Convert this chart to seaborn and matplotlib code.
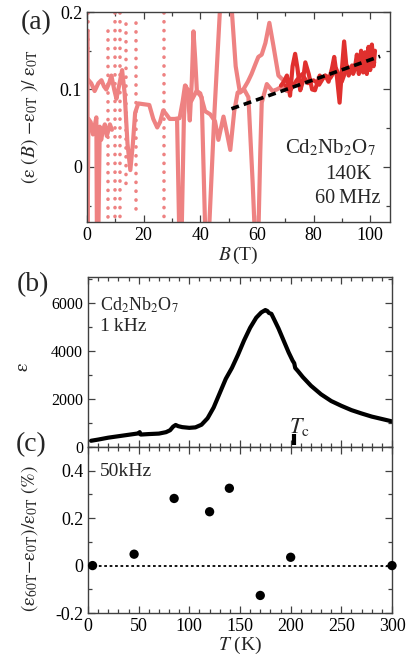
import numpy as np
import pandas as pd
import matplotlib
matplotlib.use("Agg")
import matplotlib.pyplot as plt
from matplotlib.ticker import MultipleLocator, FuncFormatter
import seaborn as sns

# ---------------- (a) magnetic-field sweeps, 140 K, 60 MHz ----------------
# lower-field branch (pink)
b_up = [0.3, 1.5, 2.7, 4.0, 5.1, 6.0, 6.8, 7.8, 8.6, 9.6, 10.4, 11.5, 12.4,
        13.3, 14.3, 15.3, 16.2, 17.0, 18.1, 20.0, 22.0, 23.4, 24.8, 25.8,
        26.9, 28.0, 29.2, 31.0, 32.7, 33.8, 34.6, 35.5, 36.3, 37.0, 37.6,
        38.2, 38.8, 40.0, 41.7, 43.5, 45.2, 46.4, 47.3, 48.2, 49.4, 50.6,
        52.0, 53.2, 55.2, 56.8, 58.1, 59.5, 60.5, 61.7, 63.0, 64.4, 65.8,
        67.6, 69.3, 70.5]
r_up = [0.113, 0.108, 0.098, 0.108, 0.112, 0.104, 0.100, 0.108, 0.118,
        0.100, 0.088, 0.108, 0.125, 0.095, 0.030, -0.004, 0.030, 0.070,
        0.082, 0.081, 0.080, 0.062, 0.051, 0.058, 0.073, 0.068, 0.062,
        0.062, 0.063, 0.085, 0.105, 0.100, 0.060, 0.110, 0.175, 0.140,
        0.098, 0.095, 0.072, 0.068, 0.059, 0.035, 0.050, 0.065, 0.044,
        0.022, 0.072, 0.096, 0.100, 0.110, 0.120, 0.133, 0.142, 0.145,
        0.160, 0.186, 0.157, 0.118, 0.112, 0.105]

# second pink branch near zero field
b_lo = [0.2, 0.2, 0.5, 1.3, 2.1, 3.3, 3.5, 4.0, 4.5, 5.0, 5.5, 6.3, 7.0,
        8.1, 8.8]
r_lo = [0.175, -0.09, 0.062, 0.058, 0.042, 0.064, -0.09, -0.09, 0.052,
        0.035, 0.045, 0.055, 0.040, 0.055, 0.048]

# pink branch with large excursions above 30 T
b_hi = [31.8, 32.6, 33.4, 34.2, 34.8, 35.8, 36.8, 37.8, 38.7, 40.5, 41.8,
        43.0, 45.0, 47.2, 50.8, 52.5, 54.0, 55.5, 57.0, 58.5, 59.3, 60.5,
        61.2, 61.7, 63.5, 65.5, 67.0, 69.0, 70.5]
r_hi = [0.062, -0.09, -0.09, 0.060, 0.105, 0.095, 0.085, 0.092, 0.098,
        0.090, -0.09, -0.09, 0.070, 0.22, 0.22, 0.130, 0.096, 0.100, 0.090,
        -0.020, -0.09, -0.09, 0.020, 0.083, 0.107, 0.098, 0.100, 0.104,
        0.098]

# dotted fast-sweep segments
dot_b = [0.4, 7.3, 9.8, 11.6, 13.8, 17.3, 27.2]
dot_top = [0.21, 0.175, 0.21, 0.21, 0.185, 0.186, 0.21]
dot_bot = [0.150, -0.08, -0.08, -0.08, -0.03, -0.055, -0.08]

# high-field branch (red)
b_red = [68.5, 69.5, 70.6, 71.7, 72.6, 73.5, 74.3, 75.3, 76.2, 77.1, 78.3,
         79.5, 80.5, 81.2, 82.2, 83.0, 84.2, 85.3, 86.5, 87.3, 88.3, 89.2,
         90.0, 90.8, 91.6, 92.4, 93.6, 94.5, 95.3, 96.0, 96.8, 97.5, 98.2,
         98.8, 99.4, 100.0, 100.6, 101.2, 101.7]
r_red = [0.105, 0.110, 0.118, 0.092, 0.130, 0.146, 0.128, 0.099, 0.110,
         0.135, 0.120, 0.100, 0.099, 0.107, 0.118, 0.114, 0.118, 0.110,
         0.127, 0.142, 0.115, 0.083, 0.125, 0.162, 0.130, 0.118, 0.131,
         0.125, 0.145, 0.120, 0.150, 0.122, 0.148, 0.120, 0.155, 0.125,
         0.158, 0.130, 0.150]
b_red2 = [70.0, 72.0, 74.0, 76.0, 78.0, 80.0, 82.0, 84.0, 86.0, 88.0, 90.0,
          92.0, 94.0, 96.0, 98.0, 100.0, 101.5]
r_red2 = [0.105, 0.100, 0.112, 0.120, 0.108, 0.112, 0.106, 0.118, 0.115,
          0.127, 0.110, 0.130, 0.120, 0.138, 0.130, 0.140, 0.135]

# linear trend at high field
fit_slope = 0.00129
fit_icpt = 0.0093
fit_range = [51.0, 103.5]

# ---------------- (b) permittivity vs temperature, 1 kHz ----------------
temp_b = [3, 10, 20, 30, 40, 50, 51, 52, 60, 70, 77, 81, 84, 86.5, 89, 93,
          100, 106, 112, 118, 124, 130, 136, 142, 148, 154, 160, 166, 171,
          175, 177, 178.5, 181, 184, 188, 193, 198, 202, 203.5, 204.5, 207,
          212, 220, 225, 230, 240, 250, 260, 270, 280, 290, 300]
eps_b = [260, 310, 390, 450, 510, 570, 620, 520, 540, 560, 620, 700, 850,
         920, 870, 830, 800, 820, 930, 1200, 1650, 2250, 2850, 3300, 3850,
         4450, 4980, 5400, 5620, 5720, 5680, 5600, 5560, 5300, 4950, 4450,
         3950, 3600, 3500, 3300, 3180, 2920, 2560, 2380, 2200, 1920, 1720,
         1540, 1400, 1270, 1170, 1070]
t_c = 203.5

# ---------------- (c) relative change at 60 T, 50 kHz ----------------
temp_c = [4.5, 45.5, 85, 120, 139.5, 170, 200, 300]
delta_c = [0.0, 0.048, 0.283, 0.227, 0.326, -0.126, 0.035, 0.0]

# ---------------------------- styling ----------------------------
sns.set_theme(style="ticks")
plt.rcParams["font.family"] = ["Liberation Serif", "DejaVu Serif"]
plt.rcParams["font.serif"] = ["Liberation Serif", "DejaVu Serif"]
plt.rcParams["mathtext.fontset"] = "stix"
plt.rcParams["axes.formatter.use_mathtext"] = False
plt.rcParams["axes.edgecolor"] = "#404040"
plt.rcParams["axes.linewidth"] = 1.0

PINK = "#ee8282"
RED = "#e0302e"
FS_TICK = 13
FS_LAB = 14
SERIF = ["Liberation Serif", "DejaVu Serif"]

fig = plt.figure(figsize=(4.12, 6.59), dpi=100)
W, H = 412.0, 659.0


def px_axes(l, t, r, b):
    return fig.add_axes([l / W, 1 - b / H, (r - l) / W, (b - t) / H])


def num_fmt(decimals):
    def f(v, p):
        if abs(v) < 1e-9:
            return "0"
        return f"{v:.{decimals}f}"
    return FuncFormatter(f)


def style_ticks(ax, size=FS_TICK):
    ax.tick_params(which="both", direction="in", top=True, right=True,
                   colors="#404040", labelcolor="black", labelsize=size,
                   width=0.9)
    ax.tick_params(which="major", length=5)
    ax.tick_params(which="minor", length=3)
    for lab in ax.get_xticklabels() + ax.get_yticklabels():
        lab.set_family(SERIF)


ax_a = px_axes(87, 12, 390, 222)
ax_b = px_axes(88, 277, 392, 447)
ax_c = px_axes(88, 447, 392, 613)

# ---- panel (a)
dots = pd.DataFrame({
    "B": np.repeat(dot_b, 2),
    "r": np.ravel(np.column_stack([dot_top, dot_bot])),
    "seg": np.repeat(np.arange(len(dot_b)), 2),
})
sns.lineplot(data=dots, x="B", y="r", units="seg", estimator=None,
             sort=False, color=PINK, lw=2.6, ax=ax_a,
             linestyle=(0, (0.05, 2.4)), dash_capstyle="round")

for bb, rr, col, lw in [(b_lo, r_lo, PINK, 3.0), (b_hi, r_hi, PINK, 3.0),
                        (b_up, r_up, PINK, 3.0), (b_red2, r_red2, RED, 2.8),
                        (b_red, r_red, RED, 3.0)]:
    sns.lineplot(x=bb, y=rr, sort=False, estimator=None, color=col, lw=lw,
                 ax=ax_a, solid_joinstyle="round", solid_capstyle="round")

fit_x = np.array(fit_range)
sns.lineplot(x=fit_x, y=fit_icpt + fit_slope * fit_x, color="black", lw=2.6,
             linestyle=(0, (2.2, 1.4)), ax=ax_a)

ax_a.set_xlim(0, 107)
ax_a.set_ylim(-0.071, 0.2)
ax_a.xaxis.set_major_locator(MultipleLocator(20))
ax_a.xaxis.set_minor_locator(MultipleLocator(10))
ax_a.xaxis.set_major_formatter(num_fmt(0))
ax_a.yaxis.set_major_locator(MultipleLocator(0.1))
ax_a.yaxis.set_minor_locator(MultipleLocator(0.05))
ax_a.yaxis.set_major_formatter(num_fmt(1))
style_ticks(ax_a)
ax_a.set_xlabel(r"$B\,$(T)", fontsize=FS_LAB, labelpad=1)
ax_a.set_ylabel(r"$(\mathrm{ε}\ (B)\ \mathrm{-ε}_{\rm 0T}\ )/\ \mathrm{ε}_{\rm 0T}$",
                fontsize=FS_LAB)
ax_a.yaxis.set_label_coords(-0.155, 0.5)
ax_a.text(0.955, 0.355, r"Cd$_2$Nb$_2$O$_7$", transform=ax_a.transAxes,
          ha="right", va="center", fontsize=15)
ax_a.text(0.94, 0.225, "140K", transform=ax_a.transAxes,
          ha="right", va="center", fontsize=15)
ax_a.text(0.97, 0.112, "60\u2009MHz", transform=ax_a.transAxes,
          ha="right", va="center", fontsize=14.5)

# ---- panel (b)
sns.lineplot(x=temp_b, y=eps_b, sort=False, estimator=None, color="black",
             lw=3.0, ax=ax_b, solid_joinstyle="round")
ax_b.vlines(t_c, 80, 530, color="black", lw=3)
ax_b.text(t_c - 5, 600, r"$T_{\rm c}$", fontsize=16, ha="left",
          va="baseline")
ax_b.set_xlim(0, 300)
ax_b.set_ylim(0, 7100)
ax_b.xaxis.set_major_locator(MultipleLocator(50))
ax_b.xaxis.set_minor_locator(MultipleLocator(10))
ax_b.yaxis.set_major_locator(MultipleLocator(2000))
ax_b.yaxis.set_minor_locator(MultipleLocator(1000))
ax_b.yaxis.set_major_formatter(num_fmt(0))
style_ticks(ax_b, size=11.5)
ax_b.tick_params(labelbottom=False)
ax_b.set_xlabel("")
ax_b.set_ylabel(r"$\mathrm{ε}$", fontsize=FS_LAB)
ax_b.yaxis.set_label_coords(-0.184, 0.47)
ax_b.text(0.04, 0.835, r"Cd$_2$Nb$_2$O$_7$", transform=ax_b.transAxes,
          ha="left", va="center", fontsize=13)
ax_b.text(0.04, 0.71, "1\u2009kHz", transform=ax_b.transAxes,
          ha="left", va="center", fontsize=FS_LAB)

# ---- panel (c)
ax_c.axhline(0, color="black", lw=1.3, linestyle=(0, (1.5, 1.5)))
sns.scatterplot(x=temp_c, y=delta_c, color="black", s=45, edgecolor="none",
                ax=ax_c, zorder=3, clip_on=False)
ax_c.set_xlim(0, 300)
ax_c.set_ylim(-0.2, 0.5)
ax_c.xaxis.set_major_locator(MultipleLocator(50))
ax_c.xaxis.set_minor_locator(MultipleLocator(10))
ax_c.xaxis.set_major_formatter(num_fmt(0))
ax_c.yaxis.set_minor_locator(MultipleLocator(0.1))
ax_c.set_yticks([-0.2, 0, 0.2, 0.4])
ax_c.yaxis.set_major_formatter(num_fmt(1))
style_ticks(ax_c)
ax_c.set_xlabel(r"$T$ (K)", fontsize=FS_LAB, labelpad=0)
ax_c.set_ylabel(r"$(\mathrm{ε}_{\rm 60T}\mathrm{−ε}_{\rm 0T})/\mathrm{ε}_{\rm 0T}\ (\%)$",
                fontsize=FS_LAB)
ax_c.yaxis.set_label_coords(-0.158, 0.45)
ax_c.text(0.04, 0.85, "50kHz", transform=ax_c.transAxes, ha="left",
          va="center", fontsize=FS_LAB)

for lab, (x, y) in {"(a)": (36, 23), "(b)": (33, 285), "(c)": (31, 445)}.items():
    fig.text(x / W, 1 - y / H, lab, ha="center", va="center", fontsize=20)

fig.savefig("out.png", dpi=100)
